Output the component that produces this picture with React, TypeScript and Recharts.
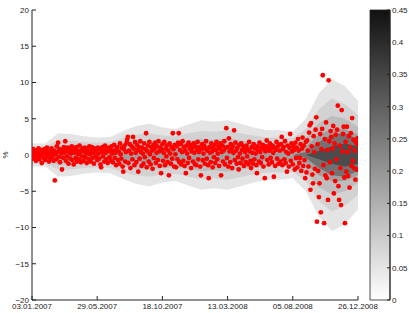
import React from "react";
import {
  ComposedChart,
  Area,
  Scatter,
  XAxis,
  YAxis,
  BarChart,
  Bar,
} from "recharts";

// daily returns (%), one per trading day
const dotValues = [
  0.3, -0.5, 0.8, 0.2, -0.3, 0.6, -0.8, 0.1, 0.4, -0.2, 0.9, -0.6, 0.3, 0.7, -0.1, -1.1, 0.5, 0.2, -0.4, 0.8,
  -0.7, 0.4, 0.1, 1.0, -0.3, 0.6, -0.9, 0.2, 0.5, -0.5, 0.9, -0.2, 0.3, -0.8, 0.6, -3.5, 0.1, -0.6, 1.2, 0.4,
  1.7, -0.3, 0.8, -1.0, 0.5, 0.2, -2.0, 0.7, -0.4, 1.1, 0.3, 1.9, -0.8, 0.6, -0.2, 1.0, -1.2, 0.4, 0.9, -0.5,
  0.2, 1.2, -0.7, 0.5, -1.3, 0.8, 0.3, -0.4, 1.1, -0.9, 0.6, 0.1, -0.6, 1.3, 0.4, -1.0, 0.7, -0.2, 0.9, -0.8,
  0.5, 1.0, -0.3, 0.2, -1.1, 0.8, 0.4, -0.6, 1.2, 0.1, -0.9, 0.6, 1.1, -0.4, 0.3, -1.2, 0.9, 0.5, -0.2, 0.7,
  -0.7, 1.0, 0.2, -0.5, 0.8, -1.3, -1.7, 0.4, 1.1, -0.2, 0.6, -0.9, 1.3, 0.3, -0.6, 0.9, -1.1, 0.5, 1.0, -0.3,
  0.7, -0.8, 1.2, 0.2, -1.0, 0.6, 1.4, -0.4, 0.3, -1.4, 0.9, 1.1, -0.7, 0.5, -1.2, 1.6, 0.1, -0.5, 1.0, -1.6,
  -2.3, 0.8, 1.3, -0.9, 0.4, 1.7, 2.1, 2.5, -1.1, 0.6, 1.5, -1.8, 0.2, 1.2, -0.6, 2.5, 0.9, -1.4, 1.8, 0.3,
  -1.0, 1.4, 0.7, -2.3, 1.1, -0.5, 1.9, 0.4, -1.5, 1.0, 0.2, -1.2, 1.6, -0.3, 0.8, 3.0, -1.7, 0.5, 1.3, -0.9,
  1.8, 0.1, -1.3, 1.1, 0.6, -1.9, 1.4, -0.4, 0.9, 1.7, -1.1, 0.3, 1.2, -0.7, 1.9, 0.5, -1.5, 1.0, -2.5, 0.7,
  1.5, -0.8, 0.3, 1.8, -1.4, 0.9, -0.2, 1.3, -1.0, 0.6, -2.8, 1.6, 0.2, -1.2, 1.1, -0.5, 3.0, 0.8, -1.6, 1.4,
  0.1, -1.7, 1.2, -0.6, 1.7, 3.0, -1.0, 0.7, 1.5, -1.3, 0.4, 1.9, -0.8, 1.1, -1.5, 0.6, -2.5, 1.3, 0.2, -1.1,
  1.7, -0.4, 0.9, 1.4, -1.8, 0.5, 1.0, -0.9, 1.6, 0.3, -1.3, 1.2, -1.4, 0.7, 1.8, -0.6, 0.4, 1.1, -1.6, -2.8,
  0.8, 1.5, -0.7, 0.2, 1.3, -1.2, 0.9, 1.9, -0.5, 0.6, -1.4, -3.2, 1.1, 0.3, -1.0, 1.6, 0.5, -1.7, 1.0, -0.3,
  1.4, -1.1, 0.7, 1.8, -0.6, 0.2, 1.2, -1.5, 0.9, 1.6, -2.8, 0.4, 1.3, -0.9, 0.6, 1.9, -1.3, 1.0, 3.7, -0.4,
  1.1, -1.6, 2.3, 0.5, -1.0, 1.5, 0.8, -1.8, 1.2, 0.3, 3.4, -0.7, 1.7, 0.6, -1.2, 1.0, -0.3, -2.0, 1.4, 0.2,
  -1.1, 1.6, 0.7, -0.5, 1.2, -1.5, 0.9, 0.4, -1.0, 1.3, -0.2, 0.8, -1.3, 1.8, 0.5, -0.8, -1.8, 1.1, 0.3, -1.2,
  1.5, -0.6, 0.9, 0.2, -1.4, -2.5, 1.2, 0.6, -0.9, 1.7, 0.4, -1.1, 1.0, -0.3, 1.4, -1.6, 0.8, -3.2, 0.5, 1.2,
  2.0, -0.7, 1.1, -1.3, 0.6, 1.6, -0.4, 0.9, -1.0, 1.3, 0.3, -3.0, 1.0, -1.5, 0.7, 1.8, -0.5, 1.2, -1.2, 1.4,
  0.6, -0.9, 1.5, 2.5, -1.4, 0.8, 1.1, -0.6, 1.9, -1.1, 0.4, -2.3, 1.3, 0.2, -1.6, 1.0, 2.9, -0.8, 1.6, 0.5,
  -1.3, 1.2, 0.7, -2.0, 1.7, -0.4, 1.0, -1.7, 2.2, 0.6, -1.1, -0.4, 1.5, -2.2, 0.9, 2.4, -1.5, 1.3, -0.7, -3.2,
  1.8, -2.4, 2.0, 0.6, -1.6, 3.1, 4.1, -4.8, 4.4, 1.2, -2.7, -3.9, 2.6, 0.4, -1.9, 3.5, 5.2, -9.2, 1.5, -2.2,
  -5.8, -3.9, 2.9, -7.9, 0.8, 3.6, 11.0, -1.4, -9.4, 2.2, -2.8, 4.5, -3.2, 0.7, -6.2, 10.3, 1.9, -1.0, 3.3, 2.5,
  -2.5, 0.9, 4.0, -5.3, 1.6, -3.6, 2.8, -0.6, 3.5, 6.8, -4.3, -6.2, 1.3, -1.8, -6.9, 6.2, 0.5, 2.9, 3.9, -3.1,
  -9.4, 1.8, -2.3, 3.9, 0.4, -2.9, 2.6, -4.5, 1.1, 3.0, -1.5, 5.1, -0.8, 2.1, -1.8, 0.6, -3.4, 1.7, -2.0, 2.3,
  1.4,
];

// density band half-widths at these day indices
const bandX = [0, 20, 40, 60, 80, 100, 120, 140, 160, 180, 200, 220, 240, 260, 280, 300, 320, 340, 360, 380, 400, 420, 440, 460, 480, 500];
const band1 = [1.6, 1.6, 3.0, 2.9, 2.6, 2.4, 2.5, 3.3, 4.0, 4.3, 3.8, 3.6, 4.2, 4.8, 4.6, 4.8, 4.3, 3.8, 3.4, 3.4, 3.2, 5.0, 8.5, 10.5, 9.5, 7.5];
const band2 = [1.2, 1.2, 2.0, 2.0, 1.8, 1.7, 1.8, 2.4, 2.8, 3.0, 2.7, 2.6, 3.0, 3.3, 3.2, 3.4, 3.0, 2.7, 2.4, 2.4, 2.3, 3.6, 6.3, 7.8, 7.0, 5.5];
const band3 = [0.8, 0.8, 1.3, 1.3, 1.2, 1.1, 1.2, 1.6, 1.9, 2.0, 1.8, 1.7, 2.0, 2.2, 2.1, 2.3, 2.0, 1.8, 1.6, 1.6, 1.5, 2.4, 4.4, 5.4, 5.0, 3.9];
const band4 = [0.4, 0.4, 0.6, 0.6, 0.6, 0.5, 0.6, 0.8, 0.9, 1.0, 0.9, 0.8, 1.0, 1.1, 1.0, 1.1, 1.0, 0.9, 0.8, 0.8, 0.8, 1.2, 2.8, 3.6, 3.6, 2.8];
const band5 = [0, 0, 0, 0, 0, 0, 0, 0, 0, 0, 0, 0, 0, 0, 0, 0, 0, 0, 0, 0, 0, 0.4, 1.8, 2.8, 3.0, 2.2];
const band6 = [0, 0, 0, 0, 0, 0, 0, 0, 0, 0, 0, 0, 0, 0, 0, 0, 0, 0, 0, 0, 0, 0, 0.6, 1.2, 1.6, 1.2];

const xTicks = [0, 100, 200, 300, 400, 500];
const xTickLabels = ["03.01.2007", "29.05.2007", "18.10.2007", "13.03.2008", "05.08.2008", "26.12.2008"];
const yTicks = [-20, -15, -10, -5, 0, 5, 10, 15, 20];
const cbTicks = [0, 0.05, 0.1, 0.15, 0.2, 0.25, 0.3, 0.35, 0.4, 0.45];

const bandFills = ["#e4e4e4", "#d2d2d2", "#bdbdbd", "#a0a0a0", "#727272", "#4c4c4c"];
const bands = [band1, band2, band3, band4, band5, band6];

const dots = dotValues.map((v, i) => ({ x: i, y: v }));
const bandRows = bandX.map((x, i) => {
  const row: any = { x };
  bands.forEach((b, k) => {
    row["b" + k] = [-b[i], b[i]];
  });
  return row;
});

const font = { fontFamily: "Liberation Sans, Arial, sans-serif", fontSize: 8, fill: "#222" };
const minus = (v: number) => (v < 0 ? "\u2212" + Math.abs(v) : String(v));

export default function App() {
  return (
    <div style={{ position: "absolute", left: 0, top: 0, width: 409, height: 313, background: "#fff" }}>
      {/* colorbar */}
      <div style={{ position: "absolute", left: 362, top: 0 }}>
        <BarChart
          width={47}
          height={313}
          data={[{ name: "cb", v: 0.45 }]}
          margin={{ top: 10, right: 0, bottom: 13, left: 8 }}
          barCategoryGap={0}
        >
          <defs>
            <linearGradient id="cbGrad" x1="0" y1="1" x2="0" y2="0">
              <stop offset="0%" stopColor="#ffffff" />
              <stop offset="100%" stopColor="#111111" />
            </linearGradient>
          </defs>
          <XAxis dataKey="name" hide />
          <YAxis
            orientation="right"
            type="number"
            domain={[0, 0.45]}
            ticks={cbTicks}
            interval={0}
            tick={font}
            tickSize={-3}
            tickMargin={5}
            width={19}
            stroke="#222"
          />
          <Bar dataKey="v" fill="url(#cbGrad)" stroke="#222" strokeWidth={0.8} isAnimationActive={false} />
        </BarChart>
      </div>

      {/* main plot */}
      <div style={{ position: "absolute", left: 0, top: 0 }}>
        <ComposedChart
          width={409}
          height={313}
          data={bandRows}
          margin={{ top: 10, right: 51, bottom: 0, left: 0 }}
        >
          <XAxis
            dataKey="x"
            type="number"
            domain={[0, 500]}
            ticks={xTicks}
            interval={0}
            allowDataOverflow
            tickFormatter={(v) => xTickLabels[xTicks.indexOf(v)]}
            tick={font}
            tickSize={-4}
            tickMargin={7}
            height={13}
            stroke="#222"
          />
          <XAxis
            xAxisId="t"
            orientation="top"
            dataKey="x"
            type="number"
            domain={[0, 500]}
            ticks={xTicks}
            interval={0}
            tick={false}
            tickSize={-4}
            height={0}
            stroke="#222"
          />
          <YAxis
            dataKey="y"
            type="number"
            domain={[-20, 20]}
            ticks={yTicks}
            interval={0}
            allowDataOverflow
            tickFormatter={minus}
            tick={font}
            tickSize={-4}
            tickMargin={7}
            width={32}
            stroke="#222"
            label={{ value: "%", angle: -90, position: "insideLeft", offset: 5, style: { ...font, textAnchor: "middle" } }}
          />
          <YAxis
            yAxisId="r"
            orientation="right"
            type="number"
            domain={[-20, 20]}
            ticks={yTicks}
            interval={0}
            tick={false}
            tickSize={-4}
            width={0}
            stroke="#222"
          />
          {bands.map((_, k) => (
            <Area
              key={k}
              dataKey={"b" + k}
              type="linear"
              stroke="none"
              fill={bandFills[k]}
              fillOpacity={1}
              dot={false}
              activeDot={false}
              isAnimationActive={false}
            />
          ))}
          <Scatter
            data={dots}
            dataKey="y"
            isAnimationActive={false}
            shape={(p: any) => <circle cx={p.cx} cy={p.cy} r={2.4} fill="#ff0000" />}
          />
        </ComposedChart>
      </div>
    </div>
  );
}
